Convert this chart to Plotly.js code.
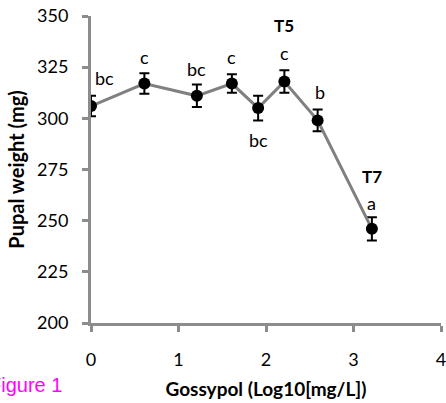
<!DOCTYPE html>
<html><head><meta charset="utf-8">
<script src="https://cdn.plot.ly/plotly-3.0.1.min.js"></script>
<style>html,body{margin:0;padding:0;background:#fff;overflow:hidden}</style>
</head><body><div id="chart" style="width:446px;height:403px"></div>
<script>
var xVals = [0, 0.61, 1.21, 1.61, 1.91, 2.21, 2.59, 3.21];
var yVals = [306, 317, 311, 317, 305, 318, 299, 246];
var errVals = [5, 5, 5.5, 4.5, 6, 5.5, 5.3, 5.7];
var letters = ['bc', 'c', 'bc', 'c', 'bc', 'c', 'b', 'a'];
var letterShiftY = [28, 27, 27, 27, -32, 28, 28, 26];
var letterShiftX = [13, 0, 0, 0, 0, 0, 2, 0];
var treatLabels = [{i: 5, text: 'T5', dy: 56}, {i: 7, text: 'T7', dy: 52}];

var font = 'Lato, "Open Sans", sans-serif';
var annotations = letters.map(function (t, i) {
  return {x: xVals[i], y: yVals[i], xref: 'x', yref: 'y', text: t, showarrow: false,
    yshift: letterShiftY[i], xshift: letterShiftX[i], font: {family: font, size: 18, color: '#000'}};
});
treatLabels.forEach(function (o) {
  annotations.push({x: xVals[o.i], y: yVals[o.i], xref: 'x', yref: 'y', text: '<b>' + o.text + '</b>',
    showarrow: false, yshift: o.dy, font: {family: font, size: 17, color: '#000'}});
});
annotations.push({x: (64 - 91) / 350, y: (323 - 385) / 307, xref: 'paper', yref: 'paper', xanchor: 'right', yanchor: 'middle',
  text: 'Figure 1', showarrow: false, font: {family: 'Liberation Sans, Arial, sans-serif', size: 20, color: '#ff00ff'}});

var trace = {
  x: xVals, y: yVals, type: 'scatter', mode: 'lines+markers',
  line: {color: '#808080', width: 3},
  marker: {color: '#000', size: 12},
  error_y: {type: 'data', array: errVals, visible: true, color: '#000', thickness: 2, width: 5}
};
var layout = {
  width: 446, height: 403,
  margin: {l: 91, r: 5, t: 16, b: 80},
  paper_bgcolor: '#fff', plot_bgcolor: '#fff',
  showlegend: false,
  xaxis: {range: [0, 4], dtick: 1, tick0: 0, showgrid: false, zeroline: false,
    showline: true, linecolor: '#8c8c8c', linewidth: 3, ticks: 'outside', ticklen: 6, tickwidth: 3, tickcolor: '#8c8c8c',
    ticklabelstandoff: 12, ticklabeloverflow: 'allow',
    tickfont: {family: font, size: 18, color: '#000'},
    title: {text: '<b>Gossypol (Log10[mg/L])</b>', font: {family: font, size: 19, color: '#000'}, standoff: 15}},
  yaxis: {range: [200, 350], dtick: 25, showgrid: false, zeroline: false,
    showline: true, linecolor: '#8c8c8c', linewidth: 3, ticks: 'outside', ticklen: 6, tickwidth: 3, tickcolor: '#8c8c8c',
    ticklabelstandoff: 10,
    tickfont: {family: font, size: 18, color: '#000'},
    title: {text: '<b>Pupal weight (mg)</b>', font: {family: font, size: 20, color: '#000'}, standoff: 8}},
  annotations: annotations
};
Plotly.newPlot('chart', [trace], layout, {displayModeBar: false, staticPlot: true});
</script></body></html>
